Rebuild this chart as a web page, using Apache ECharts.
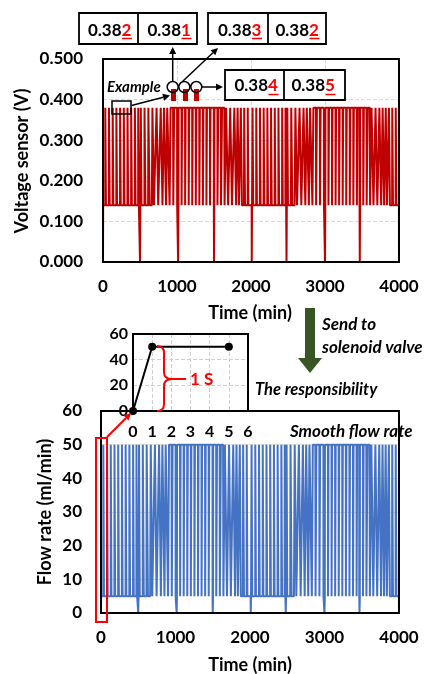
<!DOCTYPE html>
<html lang="en">
<head>
<meta charset="UTF-8" />
<title>Voltage sensor and flow rate</title>
<script src="https://cdn.jsdelivr.net/npm/echarts@6/dist/echarts.min.js"></script>
<style>
  html, body { margin: 0; padding: 0; background: #fff; }
  #chart { width: 440px; height: 674px; }
</style>
</head>
<body>
<div id="chart"></div>
<script>
// ---- values ----
// minutes where the signal is cut to zero
const dropTimes = [500, 1015, 1500, 2010, 2480, 3000, 3470, 4000];

// one entry per pulse: start (min), edge duration (min), time held at top (min)
const pulseStart = [
  30, 80, 130, 180, 230, 280, 330, 380, 430, 475,
  510, 560, 610, 660, 710, 760, 810, 860, 910, 960,
  1020, 1068, 1116, 1164, 1212, 1260, 1308, 1356, 1404, 1452,
  1505, 1555, 1605, 1655, 1705, 1755, 1805, 1855, 1905, 1955,
  2020, 2070, 2120, 2170, 2220, 2270, 2320, 2370, 2420, 2465,
  2490, 2540, 2590, 2640, 2690, 2740, 2790, 2840, 2890, 2940,
  3005, 3053, 3101, 3149, 3197, 3245, 3293, 3341, 3389, 3437,
  3475, 3523, 3571, 3619, 3667, 3715, 3763, 3811, 3859, 3907, 3955
];
const pulseEdge = [
  1, 1, 1, 1, 1, 1, 1, 1, 1, 1,
  1, 1, 3, 8, 14, 20, 14, 8, 3, 1,
  1, 1, 1, 1, 1, 1, 1, 1, 1, 1,
  1, 2, 4, 8, 14, 20, 14, 8, 3, 1,
  1, 1, 1, 1, 1, 1, 1, 1, 1, 1,
  1, 4, 10, 16, 20, 14, 8, 3, 1, 1,
  1, 1, 1, 1, 1, 1, 1, 1, 1, 1,
  1, 2, 5, 10, 16, 20, 16, 10, 5, 2, 1
];
const pulseTop = [
  8, 8, 8, 8, 8, 8, 8, 8, 8, 8,
  8, 12, 14, 12, 8, 4, 14, 24, 34, 40,
  40, 40, 40, 40, 40, 40, 40, 40, 40, 44,
  40, 36, 30, 20, 10, 4, 4, 6, 8, 8,
  8, 8, 8, 8, 8, 8, 8, 8, 8, 8,
  8, 10, 12, 8, 4, 14, 24, 34, 40, 44,
  40, 40, 40, 40, 40, 40, 40, 40, 40, 28,
  40, 36, 28, 16, 8, 4, 4, 6, 8, 8, 8
];

const voltLow = 0.14, voltHigh = 0.38;   // V
const flowLow = 5, flowHigh = 50;        // ml/min

// inset: valve response
const insetTime = [0, 1, 5];
const insetFlow = [0, 50, 50];

// readings shown in the boxes
const readings = [
  { base: '0.38', last: '2' }, { base: '0.38', last: '1' },
  { base: '0.38', last: '3' }, { base: '0.38', last: '2' },
  { base: '0.38', last: '4' }, { base: '0.38', last: '5' }
];

function buildWave(low, high) {
  const pts = [[0, 0], [2, low]];
  let d = 0;
  const addDrop = (t, last) => {
    pts.push([t - 1, low], [t, 0]);
    if (!last) pts.push([t + 2, 0], [t + 4, low]);
  };
  pulseStart.forEach((s, i) => {
    while (d < dropTimes.length && dropTimes[d] < s) { addDrop(dropTimes[d], false); d++; }
    const e = pulseEdge[i], top = pulseTop[i];
    pts.push([s, low], [s + e, high], [s + e + top, high], [s + 2 * e + top, low]);
  });
  while (d < dropTimes.length) { addDrop(dropTimes[d], d === dropTimes.length - 1); d++; }
  return pts;
}

const FONT = 'Lato';
const RED = '#FF0000';

function arrow(x1, y1, x2, y2, color, w) {
  const a = Math.atan2(y2 - y1, x2 - x1), L = 7, H = 3.5;
  const bx = x2 - L * Math.cos(a), by = y2 - L * Math.sin(a);
  return [
    { type: 'line', z: 100, shape: { x1: x1, y1: y1, x2: bx, y2: by }, style: { stroke: color, lineWidth: w } },
    { type: 'polygon', z: 100, shape: { points: [[x2, y2], [bx + H * Math.sin(a), by - H * Math.cos(a)], [bx - H * Math.sin(a), by + H * Math.cos(a)]] }, style: { fill: color } }
  ];
}

function txt(x, y, s, o) {
  return {
    type: 'text', z: 100, x: x, y: y, rotation: (o && o.rot) || 0,
    style: Object.assign({ text: s, fill: '#000', fontFamily: FONT, fontWeight: 'bold', fontSize: 17, align: 'center', verticalAlign: 'middle' }, o && o.style)
  };
}

function box(x, y, w, h, split) {
  return [
    { type: 'rect', z: 100, shape: { x: x, y: y, width: w, height: h }, style: { fill: '#fff', stroke: '#000', lineWidth: 1.8 } },
    { type: 'line', z: 101, shape: { x1: split, y1: y, x2: split, y2: y + h }, style: { stroke: '#000', lineWidth: 1.8 } }
  ];
}

function frame(x, y, w, h) {
  return { type: 'rect', z: 90, shape: { x: x, y: y, width: w, height: h }, style: { fill: null, stroke: '#000', lineWidth: 2 } };
}

function reading(r, splitX, y, uy) {
  return [
    txt(splitX, y, r.base, { style: { align: 'right' } }),
    txt(splitX, y, r.last, { style: { align: 'left', fill: RED } }),
    { type: 'line', z: 101, shape: { x1: splitX + 0.5, y1: uy, x2: splitX + 10.5, y2: uy }, style: { stroke: RED, lineWidth: 1.5 } }
  ];
}

function seg(x1, y1, x2, y2) {
  return { type: 'line', z: 100, shape: { x1: x1, y1: y1, x2: x2, y2: y2 }, style: { stroke: RED, lineWidth: 2 } };
}
function curve(x1, y1, cx, cy, x2, y2) {
  return { type: 'bezierCurve', z: 100, shape: { x1: x1, y1: y1, cpx1: cx, cpy1: cy, x2: x2, y2: y2 }, style: { fill: null, stroke: RED, lineWidth: 2 } };
}

const graphics = [].concat(
  [frame(103, 59, 296, 203), frame(101, 411, 298, 202), frame(133, 334, 115, 77)],
  box(79, 13, 118, 31, 138), box(208, 13, 118, 31, 268), box(225, 70, 120, 30, 284),
  reading(readings[0], 121.5, 31, 38.5), reading(readings[1], 181, 31, 38.5),
  reading(readings[2], 251.5, 31, 38.5), reading(readings[3], 309, 31, 38.5),
  reading(readings[4], 268, 86, 94.5), reading(readings[5], 325, 86, 94.5),
  [
    txt(107, 87, 'Example', { style: { align: 'left', fontStyle: 'italic', fontSize: 15 } }),
    { type: 'rect', z: 100, shape: { x: 112, y: 101, width: 19, height: 13 }, style: { fill: null, stroke: '#000', lineWidth: 1.5 } },
    { type: 'rect', z: 99, shape: { x: 171, y: 89, width: 5, height: 12 }, style: { fill: '#C00000' } },
    { type: 'rect', z: 99, shape: { x: 183, y: 89, width: 5, height: 12 }, style: { fill: '#C00000' } },
    { type: 'rect', z: 99, shape: { x: 194, y: 89, width: 5, height: 12 }, style: { fill: '#C00000' } },
    { type: 'circle', z: 100, shape: { cx: 172.7, cy: 87, r: 5.5 }, style: { fill: null, stroke: '#000', lineWidth: 1.5 } },
    { type: 'circle', z: 100, shape: { cx: 184.3, cy: 87, r: 5.5 }, style: { fill: null, stroke: '#000', lineWidth: 1.5 } },
    { type: 'circle', z: 100, shape: { cx: 196.3, cy: 87, r: 5.5 }, style: { fill: null, stroke: '#000', lineWidth: 1.5 } }
  ],
  arrow(172.7, 81.5, 172.7, 47, '#000', 1.5),
  arrow(182, 82, 218, 48, '#000', 1.5),
  arrow(202, 87, 223, 87, '#000', 1.5),
  arrow(131.5, 105.5, 170, 95.5, '#000', 1.5),
  [
    txt(22, 161, 'Voltage sensor (V)', { rot: Math.PI / 2, style: { fontSize: 18 } }),
    txt(250, 313, 'Time (min)', { style: { fontSize: 18 } }),
    txt(45, 512, 'Flow rate (ml/min)', { rot: Math.PI / 2, style: { fontSize: 18 } }),
    txt(250, 665, 'Time (min)', { style: { fontSize: 18 } }),
    // green arrow
    { type: 'rect', z: 100, shape: { x: 305, y: 308, width: 10, height: 51 }, style: { fill: '#375623' } },
    { type: 'polygon', z: 100, shape: { points: [[298, 358], [322, 358], [310, 373]] }, style: { fill: '#375623' } },
    txt(322, 325, 'Send to', { style: { align: 'left', fontStyle: 'italic', fontSize: 17 } }),
    txt(322, 348, 'solenoid valve', { style: { align: 'left', fontStyle: 'italic', fontSize: 17 } }),
    txt(255, 390, 'The responsibility', { style: { align: 'left', fontStyle: 'italic', fontSize: 16.5 } }),
    txt(290, 432, 'Smooth flow rate', { style: { align: 'left', fontStyle: 'italic', fontSize: 17 } }),
    // red brace + label
    curve(157, 346, 164, 346, 164, 353), seg(164, 353, 164, 372), curve(164, 372, 164, 379, 172, 379),
    seg(172, 379, 186, 379),
    curve(172, 379, 164, 379, 164, 386), seg(164, 386, 164, 404), curve(164, 404, 164, 411, 157, 411),
    txt(190, 380, '1 S', { style: { align: 'left', fill: RED } }),
    // red box at origin of lower chart
    { type: 'rect', z: 100, shape: { x: 96, y: 438, width: 11, height: 184 }, style: { fill: null, stroke: RED, lineWidth: 2 } }
  ],
  arrow(107, 437, 131, 413, RED, 2)
);

const tickLabel = { color: '#000', fontFamily: FONT, fontWeight: 'bold', fontSize: 17 };
const plain = v => String(v);

const option = {
  animation: false,
  grid: [
    { left: 103, top: 59, width: 296, height: 203 },
    { left: 101, top: 411, width: 298, height: 202 },
    { left: 133, top: 334, width: 115, height: 77 }
  ],
  xAxis: [
    { gridIndex: 0, type: 'value', min: 0, max: 4000, interval: 1000,
      axisLine: { show: false }, axisTick: { show: false },
      axisLabel: Object.assign({ margin: 16, formatter: plain }, tickLabel),
      splitLine: { show: true, lineStyle: { color: '#d9d9d9', type: 'dashed' } } },
    { gridIndex: 1, type: 'value', min: 0, max: 4000, interval: 1000,
      axisLine: { show: false }, axisTick: { show: false },
      axisLabel: Object.assign({ margin: 16, formatter: plain }, tickLabel),
      splitLine: { show: false } },
    { gridIndex: 2, type: 'value', min: 0, max: 6, interval: 1,
      axisLine: { show: false }, axisTick: { show: false },
      axisLabel: Object.assign({ margin: 13 }, tickLabel, { fontSize: 16 }),
      splitLine: { show: true, lineStyle: { color: '#d0d0d0', type: 'dashed' } } }
  ],
  yAxis: [
    { gridIndex: 0, type: 'value', min: 0, max: 0.5, interval: 0.1,
      axisLine: { show: false }, axisTick: { show: false },
      axisLabel: Object.assign({ margin: 20, formatter: v => v.toFixed(3) }, tickLabel),
      splitLine: { show: true, lineStyle: { color: '#d9d9d9', type: 'dashed' } } },
    { gridIndex: 1, type: 'value', min: 0, max: 60, interval: 10,
      axisLine: { show: false }, axisTick: { show: false },
      axisLabel: Object.assign({ margin: 19 }, tickLabel),
      splitLine: { show: true, lineStyle: { color: '#e0e0e0' } } },
    { gridIndex: 2, type: 'value', min: 0, max: 60, interval: 20,
      axisLine: { show: false }, axisTick: { show: false },
      axisLabel: Object.assign({ margin: 5 }, tickLabel, { fontSize: 16 }),
      splitLine: { show: true, lineStyle: { color: '#d0d0d0', type: 'dashed' } } }
  ],
  series: [
    { name: 'Voltage', type: 'line', xAxisIndex: 0, yAxisIndex: 0, showSymbol: false,
      data: buildWave(voltLow, voltHigh), lineStyle: { color: '#C00000', width: 2 }, itemStyle: { color: '#C00000' } },
    { name: 'Flow rate', type: 'line', xAxisIndex: 1, yAxisIndex: 1, showSymbol: false,
      data: buildWave(flowLow, flowHigh), lineStyle: { color: '#4472C4', width: 2 }, itemStyle: { color: '#4472C4' } },
    { name: 'Response', type: 'line', xAxisIndex: 2, yAxisIndex: 2, symbol: 'circle', symbolSize: 8,
      data: insetTime.map((t, i) => [t, insetFlow[i]]),
      lineStyle: { color: '#000', width: 2 }, itemStyle: { color: '#000' } }
  ],
  graphic: graphics
};

const chart = echarts.init(document.getElementById('chart'));
chart.setOption(option);
</script>
</body>
</html>
